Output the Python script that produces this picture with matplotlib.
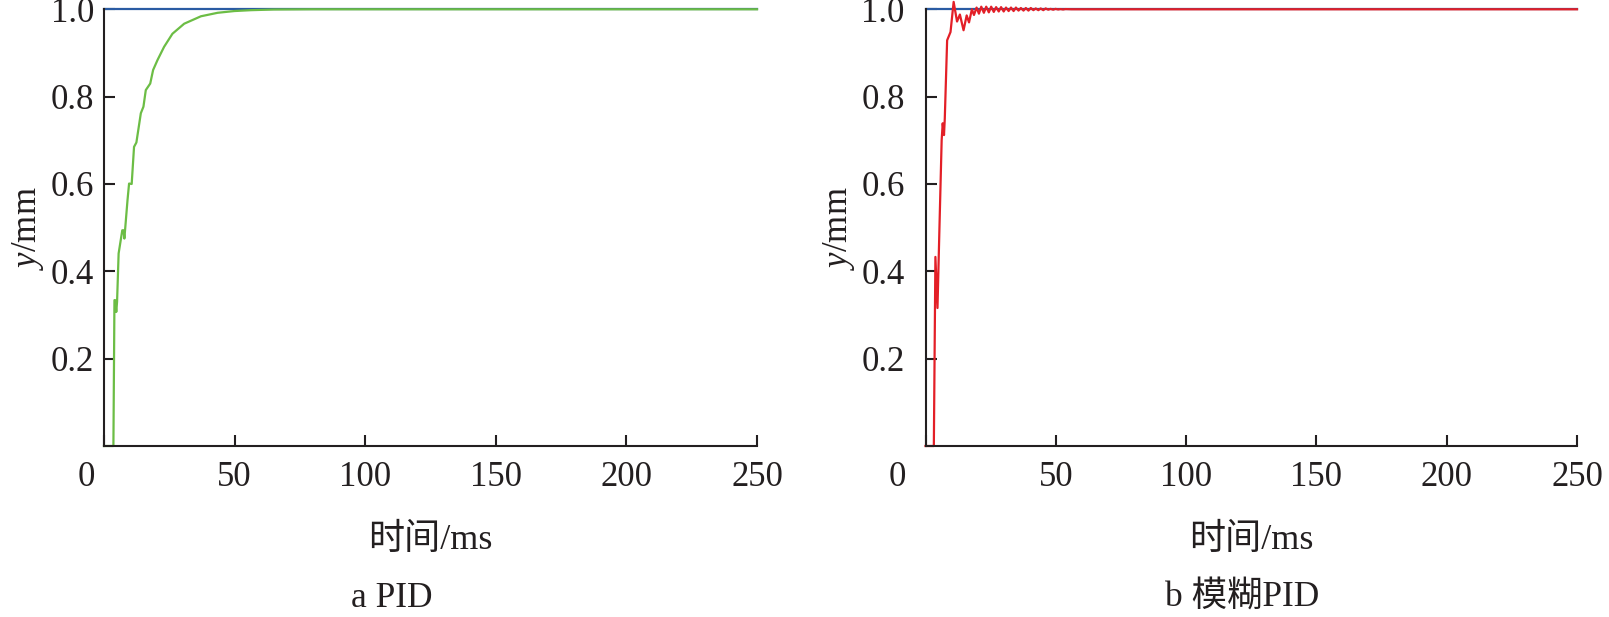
import matplotlib
matplotlib.use("Agg")
import matplotlib.pyplot as plt
from matplotlib.transforms import ScaledTranslation

plt.rcParams['font.family'] = ['Liberation Serif', 'Noto Sans CJK SC']
plt.rcParams['mathtext.fontset'] = 'custom'
plt.rcParams['mathtext.it'] = 'Liberation Serif:italic'
plt.rcParams['mathtext.rm'] = 'Liberation Serif'

# reference (set point) signal
ref_t = [0, 250]
ref_y = [1.0, 1.0]

# PID step response
pid_t = [0, 3.6, 4.0, 4.3, 4.7, 5.0, 5.6, 7.0, 7.5, 7.8, 9.0, 9.6, 10.6, 11.5, 12.4,
         14.1, 15.1, 16.0, 17.7, 18.8, 20.5, 23.0, 26.2, 30.7, 37.1, 43.5, 49.9,
         56.3, 65.0, 80.0, 250]
pid_y = [0, 0, 0.334, 0.334, 0.307, 0.33, 0.441, 0.494, 0.494, 0.475, 0.563, 0.601,
         0.600, 0.685, 0.695, 0.762, 0.777, 0.815, 0.830, 0.861, 0.884, 0.914, 0.944,
         0.967, 0.984, 0.992, 0.996, 0.998, 0.9995, 1.0, 1.0]

# fuzzy PID step response
fuzzy_t = [0, 3.2, 3.8, 4.6, 5.3, 6.2, 6.6, 7.1, 7.4, 8.3, 9.6, 10.8, 12.1, 13.2,
           14.6, 15.8, 16.7, 17.8, 18.6, 19.6, 20.5, 21.4, 22.4, 23.3, 24.3, 25.2,
           26.2, 27.1, 28.1, 29.0, 30.0, 30.9, 31.9, 32.8, 33.8, 34.7, 35.7, 36.6,
           37.6, 38.5, 39.5, 40.4, 41.4, 42.3, 43.3, 44.2, 45.2, 46.1, 47.1, 48.0,
           49.0, 49.9, 50.9, 51.8, 52.8, 53.7, 56.0, 250]
fuzzy_y = [0, 0, 0.433, 0.316, 0.487, 0.700, 0.739, 0.712, 0.750, 0.929, 0.948, 1.017,
           0.972, 0.988, 0.952, 0.986, 0.970, 1.000, 0.987, 1.004, 0.990, 1.006, 0.992,
           1.006, 0.993, 1.006, 0.994, 1.005, 0.995, 1.005, 0.995, 1.004, 0.996, 1.004,
           0.996, 1.004, 0.997, 1.003, 0.997, 1.003, 0.997, 1.003, 0.998, 1.002, 0.998,
           1.002, 0.998, 1.002, 0.999, 1.001, 0.999, 1.001, 0.9995, 1.0005, 0.9995,
           1.0005, 1.0, 1.0]

x_ticks = [0, 50, 100, 150, 200, 250]
y_ticks = [0.2, 0.4, 0.6, 0.8, 1.0]
x_label = "时间/ms"
y_label = "$y$/mm"
captions = ["a PID", "b 模糊PID"]

W, H = 1609, 617
fig = plt.figure(figsize=(W / 100, H / 100), dpi=100)

ink = '#231f20'
blue = '#2a5ba3'
colors = ['#6cbd45', '#e31f27']
series = [(pid_t, pid_y), (fuzzy_t, fuzzy_y)]

# pixel layout of each panel: left, right, y-tick pad, shift of "0", ylabel x, caption x
panels = [
    (104, 757, 7, -18, 28.5, 392),
    (925.5, 1577, 15, -28, 839, 1242),
]
ytop, ybot = 9.3, 446

for (x0, x1, ypad, zshift, ylx, capx), (t, y), c, cap in zip(panels, series, colors, captions):
    ax = fig.add_axes([x0 / W, 1 - ybot / H, (x1 - x0) / W, (ybot - ytop) / H])
    ax.plot(ref_t, ref_y, color=blue, lw=1.6, clip_on=False)
    ax.plot(t, y, color=c, lw=1.6, clip_on=False)

    ax.set_xlim(0, 250)
    ax.set_ylim(0, 1.0)
    ax.spines['top'].set_visible(False)
    ax.spines['right'].set_visible(False)
    for s in ['left', 'bottom']:
        ax.spines[s].set_color(ink)
        ax.spines[s].set_linewidth(1.5)

    ax.set_xticks(x_ticks, labels=[str(v) for v in x_ticks])
    ax.set_yticks(y_ticks, labels=[f"{v:.1f}" for v in y_ticks])
    ax.tick_params(axis='both', direction='in', length=8, width=1.5,
                   color=ink, labelcolor=ink, labelsize=25)
    ax.tick_params(axis='x', pad=10.5)
    ax.tick_params(axis='y', pad=ypad)

    lab0 = ax.get_xticklabels()[0]
    lab0.set_transform(lab0.get_transform() + ScaledTranslation(zshift / 100, 0, fig.dpi_scale_trans))

    xc = (x0 + x1) / 2
    fig.text(ylx / W, 1 - 228 / H, y_label, rotation=90, ha='center', va='center',
             fontsize=25, color=ink)
    fig.text(xc / W, 1 - 549 / H, x_label, ha='center', va='baseline',
             fontsize=26, color=ink)
    fig.text(capx / W, 1 - 607 / H, cap, ha='center', va='baseline',
             fontsize=25.5, color=ink)

fig.savefig("out.png", dpi=100)
